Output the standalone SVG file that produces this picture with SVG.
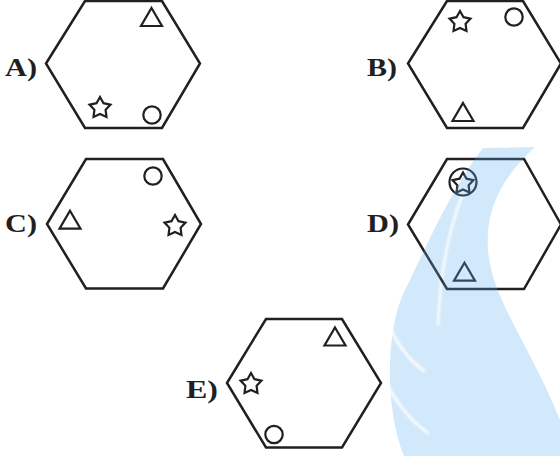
<svg xmlns="http://www.w3.org/2000/svg" xmlns:xlink="http://www.w3.org/1999/xlink" width="560" height="456" viewBox="0 0 560 456">
<style>
.hex{fill:none;stroke:#231f20;stroke-width:2.5;stroke-linejoin:miter}
.sh{fill:none;stroke:#231f20;stroke-width:2.2;stroke-linejoin:miter}
.lbl{font-family:"Liberation Serif","Times New Roman",serif;font-weight:bold;font-size:26px;fill:#231f20}
</style>
<defs>
<polygon id="star" points="0,-11 3.5,-4.8 10.46,-3.4 5.6,1.8 6.47,8.9 0,5.9 -6.47,8.9 -5.6,1.8 -10.46,-3.4 -3.5,-4.8"/>
<polygon id="tri" points="0,-9 10.5,9 -10.5,9"/>
<circle id="circ" r="8.7"/>
<filter id="soft" x="-20%" y="-20%" width="140%" height="140%"><feGaussianBlur stdDeviation="0.8"/></filter>
<mask id="wmMask" maskUnits="userSpaceOnUse" x="0" y="0" width="560" height="456">
<rect x="0" y="0" width="560" height="456" fill="white"/>
<g fill="none" stroke="black" stroke-linecap="round" filter="url(#soft)">
<path d="M462 196 Q441 250 438 325" stroke-width="2.2"/>
<path d="M390 327 Q402 355 424 371" stroke-width="2.5"/>
<path d="M387 384 Q403 415 428 433" stroke-width="2.5"/>
</g>
</mask>
</defs>

<g id="optA">
<text class="lbl" x="5" y="76" textLength="32" lengthAdjust="spacingAndGlyphs">A)</text>
<polygon class="hex" points="46,63.5 85,1 162,1 200,63.5 162,128 85,128"/>
<use href="#tri" class="sh" x="151.5" y="17"/>
<use href="#star" class="sh" x="100" y="108"/>
<use href="#circ" class="sh" x="152" y="115"/>
</g>

<g id="optB">
<text class="lbl" x="367" y="76" textLength="30" lengthAdjust="spacingAndGlyphs">B)</text>
<polygon class="hex" points="408,63.5 447,1 523,1 561,63.5 523,128 447,128"/>
<use href="#star" class="sh" x="460" y="22"/>
<use href="#circ" class="sh" x="514" y="17"/>
<use href="#tri" class="sh" x="463" y="112"/>
</g>

<g id="optC">
<text class="lbl" x="5" y="232" textLength="32" lengthAdjust="spacingAndGlyphs">C)</text>
<polygon class="hex" points="47,224 86,159 163,159 201,224 163,288.5 86,288.5"/>
<use href="#circ" class="sh" x="153" y="176"/>
<use href="#tri" class="sh" x="70" y="219.7"/>
<use href="#star" class="sh" x="175" y="226"/>
</g>

<g id="optD">
<text class="lbl" x="367" y="232" textLength="32" lengthAdjust="spacingAndGlyphs">D)</text>
<polygon class="hex" points="408,224.5 447,159 524,159 561,224.5 524,289 447,289"/>
<circle class="sh" cx="463" cy="182" r="13.5"/>
<use href="#star" class="sh" x="463" y="183.5"/>
<use href="#tri" class="sh" x="464.5" y="271.7"/>
</g>

<g id="optE">
<text class="lbl" x="186" y="398" textLength="32" lengthAdjust="spacingAndGlyphs">E)</text>
<polygon class="hex" points="227,383 266,319 342,319 381,383 342,447.5 266,447.5"/>
<use href="#tri" class="sh" x="335" y="336.5"/>
<use href="#star" class="sh" x="251" y="384"/>
<use href="#circ" class="sh" x="274" y="434.5"/>
</g>

<g id="connectors"/>

<g id="watermark" mask="url(#wmMask)">
<path d="M483 148 L535 147 C505 175 485 205 488 250 C492 300 530 345 560 420 L560 456 L404 456 C385 410 385 330 405 290 S450 190 483 148 Z" fill="#5fb0ef" fill-opacity="0.28"/>
</g>
</svg>
